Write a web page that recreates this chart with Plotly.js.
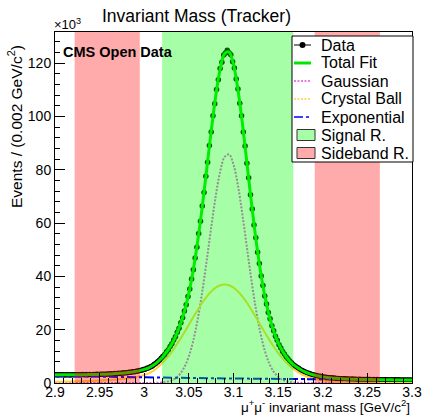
<!DOCTYPE html>
<html><head><meta charset="utf-8">
<script src="https://cdn.plot.ly/plotly-3.0.1.min.js"></script>
<style>html,body{margin:0;padding:0;background:#fff;overflow:hidden;} #chart{width:422px;height:416px;}</style>
</head><body><div id="chart"></div>
<script>
// Binned data: events per 0.002 GeV/c^2 bin, in units of 10^3
const binStart = 2.9, binWidth = 0.002;
const dataCounts = [
3.09,3.04,3.10,3.05,3.11,3.03,3.12,3.06,3.04,3.13,
3.06,3.11,3.05,3.14,3.08,3.15,3.10,3.17,3.12,3.19,
3.14,3.22,3.17,3.26,3.21,3.29,3.25,3.33,3.29,3.39,
3.36,3.46,3.42,3.52,3.50,3.62,3.60,3.72,3.71,3.85,
3.84,4.01,4.02,4.19,4.22,4.41,4.47,4.69,4.79,5.05,
5.19,5.52,5.69,6.13,6.40,6.93,7.37,7.99,8.55,9.31,
10.02,10.71,11.70,12.52,13.71,14.70,16.12,17.33,19.05,20.54,
22.62,24.48,27.01,29.33,32.42,35.27,39.01,42.45,46.89,50.94,
56.07,60.68,66.42,71.46,77.61,82.83,89.12,94.21,100.23,104.80,
110.12,113.79,117.98,120.33,123.05,123.86,124.88,123.93,123.20,120.56,
118.22,114.05,110.33,104.99,100.29,94.18,88.89,82.44,76.98,70.60,
65.31,59.32,54.47,49.10,44.83,40.16,36.55,32.63,29.66,26.46,
24.07,21.48,19.58,17.51,16.00,14.37,13.17,11.85,10.91,9.84,
9.09,8.21,7.60,6.88,6.40,5.90,5.53,5.00,4.73,4.30,
4.07,3.72,3.54,3.27,3.12,2.88,2.79,2.57,2.51,2.33,
2.28,2.13,2.10,1.97,1.96,1.83,1.83,1.72,1.72,1.63,
1.64,1.56,1.57,1.49,1.50,1.44,1.46,1.40,1.42,1.36,
1.38,1.33,1.35,1.30,1.33,1.27,1.30,1.25,1.28,1.23,
1.27,1.22,1.25,1.20,1.23,1.18,1.21,1.17,1.20,1.15,
1.19,1.14,1.18,1.13,1.16,1.12,1.15,1.10,1.14,1.09];

// Fit curves sampled every 0.005 GeV/c^2 from 2.9 to 3.3 (units of 10^3)
const curveStart = 2.9, curveStep = 0.005;
const totalFit = [
3.07,3.07,3.07,3.08,3.08,3.09,3.11,3.13,3.17,3.20,3.25,3.30,3.37,3.45,3.56,3.68,3.84,4.05,4.30,4.64,
5.09,5.72,6.62,7.93,9.59,11.64,14.20,17.41,21.54,26.88,33.82,42.61,53.46,66.19,80.22,94.49,107.51,117.69,123.54,124.19,
119.46,110.06,97.26,82.69,67.93,54.26,42.45,32.78,25.23,19.48,15.16,11.91,9.45,7.55,6.17,5.04,4.16,3.50,2.99,2.60,
2.30,2.07,1.89,1.74,1.63,1.54,1.47,1.42,1.37,1.33,1.30,1.27,1.25,1.23,1.20,1.19,1.17,1.16,1.14,1.12,
1.11];
const gaussian = [
0,0,0,0,0,0,0,0,0,0,0,0,0,0,0,0,0,0,0,0,
0.00,0.01,0.03,0.08,0.19,0.42,0.89,1.77,3.35,5.97,10.07,16.01,24.10,34.24,45.98,58.34,69.94,79.24,84.81,85.78,
81.97,74.03,63.16,50.92,38.79,27.92,18.99,12.20,7.41,4.25,2.30,1.18,0.57,0.26,0.11,0.05,0.02,0.01,0,0,
0,0,0,0,0,0,0,0,0,0,0,0,0,0,0,0,0,0,0,0,
0];
const crystalBall = [
0.47,0.50,0.53,0.56,0.59,0.63,0.67,0.72,0.78,0.84,0.91,0.99,1.08,1.19,1.32,1.47,1.65,1.88,2.16,2.52,
2.99,3.63,4.54,5.82,7.39,9.23,11.34,13.69,16.27,19.01,21.87,24.74,27.52,30.13,32.44,34.36,35.80,36.70,37.00,36.70,
35.80,34.36,32.44,30.13,27.52,24.74,21.87,19.01,16.27,13.69,11.34,9.23,7.39,5.82,4.60,3.55,2.72,2.08,1.60,1.22,
0.94,0.72,0.55,0.42,0.32,0.25,0.19,0.15,0.12,0.09,0.07,0.06,0.05,0.04,0.03,0.03,0.02,0.02,0.02,0.01,
0.01];
const exponential = [
2.60,2.57,2.54,2.52,2.49,2.46,2.44,2.41,2.39,2.36,2.34,2.31,2.29,2.26,2.24,2.21,2.19,2.17,2.14,2.12,
2.10,2.08,2.05,2.03,2.01,1.99,1.97,1.95,1.92,1.90,1.88,1.86,1.84,1.82,1.80,1.79,1.77,1.75,1.73,1.71,
1.69,1.67,1.66,1.64,1.62,1.60,1.59,1.57,1.55,1.54,1.52,1.50,1.49,1.47,1.46,1.44,1.42,1.41,1.39,1.38,
1.36,1.35,1.34,1.32,1.31,1.29,1.28,1.27,1.25,1.24,1.23,1.21,1.20,1.19,1.17,1.16,1.15,1.14,1.12,1.11,
1.10];

// Mass windows (GeV/c^2)
const signalRegion = [3.020, 3.167];
const sidebandRegions = [[2.922, 2.995], [3.191, 3.264]];

// Axes
const xRange = [2.9, 3.3];
const yRange = [0, 131.7];
const xTickVals = [2.9, 2.95, 3, 3.05, 3.1, 3.15, 3.2, 3.25, 3.3];
const xTickText = ['2.9', '2.95', '3', '3.05', '3.1', '3.15', '3.2', '3.25', '3.3'];
const yTickVals = [0, 20, 40, 60, 80, 100, 120];
const yTickText = ['0', '20', '40', '60', '80', '100', '120'];

// Legend entries
const legendLabels = ['Data', 'Total Fit', 'Gaussian', 'Crystal Ball', 'Exponential', 'Signal R.', 'Sideband R.'];

const binX = dataCounts.map((_, i) => +(binStart + (i + 0.5) * binWidth).toFixed(4));
const curveX = totalFit.map((_, i) => +(curveStart + i * curveStep).toFixed(4));

const colors = {
  data: '#000000', total: '#00e600', gauss: '#e64ee6', cb: '#ffd23c', expo: '#0000ff',
  green: 'rgba(0,255,0,0.35)', red: 'rgba(255,0,0,0.33)'
};
const styles = {
  gauss: { color: colors.gauss, width: 2, dash: '2px,1.5px' },
  cb: { color: colors.cb, width: 2 },
  expo: { color: colors.expo, width: 2, dash: 'dashdot' },
  total: { color: colors.total, width: 3 }
};

function box(lo, hi) {
  return { x: [lo, hi, hi, lo, lo], y: [yRange[0], yRange[0], yRange[1], yRange[1], yRange[0]] };
}

const traces = [
  { x: binX, y: dataCounts, type: 'scatter', mode: 'markers', name: legendLabels[0],
    marker: { color: colors.data, size: 5.5 } },
  { x: curveX, y: gaussian, type: 'scatter', mode: 'lines', name: legendLabels[2],
    line: Object.assign({ shape: 'spline' }, styles.gauss) },
  { x: curveX, y: crystalBall, type: 'scatter', mode: 'lines', name: legendLabels[3],
    line: Object.assign({ shape: 'spline' }, styles.cb) },
  { x: curveX, y: exponential, type: 'scatter', mode: 'lines', name: legendLabels[4],
    line: styles.expo },
  { x: curveX, y: totalFit, type: 'scatter', mode: 'lines', name: legendLabels[1],
    line: Object.assign({ shape: 'spline' }, styles.total) }
];
const sg = box(signalRegion[0], signalRegion[1]);
traces.push({ x: sg.x, y: sg.y, type: 'scatter', mode: 'lines', fill: 'toself', fillcolor: colors.green,
  line: { width: 0, color: 'rgba(0,0,0,0)' }, name: legendLabels[5], hoverinfo: 'skip' });
sidebandRegions.forEach(r => {
  const b = box(r[0], r[1]);
  traces.push({ x: b.x, y: b.y, type: 'scatter', mode: 'lines', fill: 'toself', fillcolor: colors.red,
    line: { width: 0, color: 'rgba(0,0,0,0)' }, name: legendLabels[6], hoverinfo: 'skip' });
});

const W = 422, H = 416, mL = 55, mR = 10, mT = 32, mB = 33;
const pw = W - mL - mR, ph = H - mT - mB;
const px = v => (v - mL) / pw;
const py = v => (H - mB - v) / ph;

// Legend box drawn as layout decoration (ROOT TLegend style)
const leg = { x0: 292, x1: 413, y0: 36, y1: 162, row0: 45, dy: 18, sym0: 294, sym1: 311, text: 319 };
const shapes = [
  { type: 'rect', xref: 'paper', yref: 'paper', x0: px(leg.x0), x1: px(leg.x1), y0: py(leg.y1), y1: py(leg.y0),
    fillcolor: '#fff', line: { color: '#000', width: 1 }, layer: 'above' }
];
const annotations = [];
const legendSymbols = ['data', 'total', 'gauss', 'cb', 'expo', 'green', 'red'];
legendSymbols.forEach((s, k) => {
  const yc = leg.row0 + k * leg.dy;
  if (s === 'data') {
    shapes.push({ type: 'line', xref: 'paper', yref: 'paper', x0: px(leg.sym0), x1: px(leg.sym1), y0: py(yc), y1: py(yc),
      line: { color: '#000', width: 1 }, layer: 'above' });
    shapes.push({ type: 'circle', xref: 'paper', yref: 'paper', x0: px(299.5), x1: px(305.5), y0: py(yc + 3), y1: py(yc - 3),
      fillcolor: '#000', line: { color: '#000', width: 0 }, layer: 'above' });
  } else if (s === 'green' || s === 'red') {
    shapes.push({ type: 'rect', xref: 'paper', yref: 'paper', x0: px(297), x1: px(315), y0: py(yc + 5.5), y1: py(yc - 5.5),
      fillcolor: s === 'green' ? '#a6ffa6' : '#ffabab', line: { color: '#333', width: 1 }, layer: 'above' });
  } else {
    const st = styles[s];
    shapes.push({ type: 'line', xref: 'paper', yref: 'paper', x0: px(leg.sym0), x1: px(leg.sym1), y0: py(yc), y1: py(yc),
      line: { color: st.color, width: s === 'total' ? 3 : 1.5,
        dash: s === 'total' ? 'solid' : (s === 'expo' ? 'dashdot' : '2px,1.5px') },
      layer: 'above' });
  }
  annotations.push({ text: legendLabels[k], xref: 'paper', yref: 'paper', x: px(leg.text), y: py(yc),
    xanchor: 'left', yanchor: 'middle', showarrow: false, font: { size: 16 } });
});

annotations.push(
  { text: 'Invariant Mass (Tracker)', xref: 'paper', yref: 'paper', x: px(196), y: py(16),
    xanchor: 'center', yanchor: 'middle', showarrow: false, font: { size: 17.5 } },
  { text: '×10<sup>3</sup>', xref: 'paper', yref: 'paper', x: px(52), y: py(24),
    xanchor: 'left', yanchor: 'middle', showarrow: false, font: { size: 13 } },
  { text: '<b>CMS Open Data</b>', xref: 'paper', yref: 'paper', x: px(61), y: py(52),
    xanchor: 'left', yanchor: 'middle', showarrow: false, font: { size: 14.5 } },
  { text: 'μ<sup>+</sup>μ<sup>-</sup> invariant mass [GeV/c<sup>2</sup>]', xref: 'paper', yref: 'paper',
    x: 1, y: py(405.5), xanchor: 'right', yanchor: 'middle', showarrow: false, font: { size: 13.5 } },
  { text: 'Events / (0.002 GeV/c<sup>2</sup>)', xref: 'paper', yref: 'paper', x: px(15), y: py(127),
    xanchor: 'center', yanchor: 'middle', textangle: -90, showarrow: false, font: { size: 15.5 } }
);

const axisCommon = {
  ticks: 'inside', ticklen: 10, tickwidth: 1, tickcolor: '#000',
  showline: true, linecolor: '#000', linewidth: 1, mirror: true, showgrid: false, zeroline: false,
  automargin: false, tickfont: { size: 14 }
};

const layout = {
  width: W, height: H,
  margin: { l: mL, r: mR, t: mT, b: mB, pad: 0 },
  paper_bgcolor: '#fff', plot_bgcolor: '#fff',
  font: { family: 'Liberation Sans, Arial, Helvetica, sans-serif', color: '#000', size: 14 },
  showlegend: false,
  xaxis: Object.assign({ range: xRange, tickmode: 'array', tickvals: xTickVals, ticktext: xTickText,
    ticklabelstandoff: -4,
    minor: { tickmode: 'linear', tick0: 2.9, dtick: 0.01, ticks: 'inside', ticklen: 5, tickcolor: '#000', showgrid: false } }, axisCommon),
  yaxis: Object.assign({ range: yRange, tickmode: 'array', tickvals: yTickVals, ticktext: yTickText,
    minor: { tickmode: 'linear', tick0: 0, dtick: 4, ticks: 'inside', ticklen: 5, tickcolor: '#000', showgrid: false } }, axisCommon),
  shapes: shapes,
  annotations: annotations
};

Plotly.newPlot('chart', traces, layout, { staticPlot: true, displayModeBar: false });
</script>
</body></html>
